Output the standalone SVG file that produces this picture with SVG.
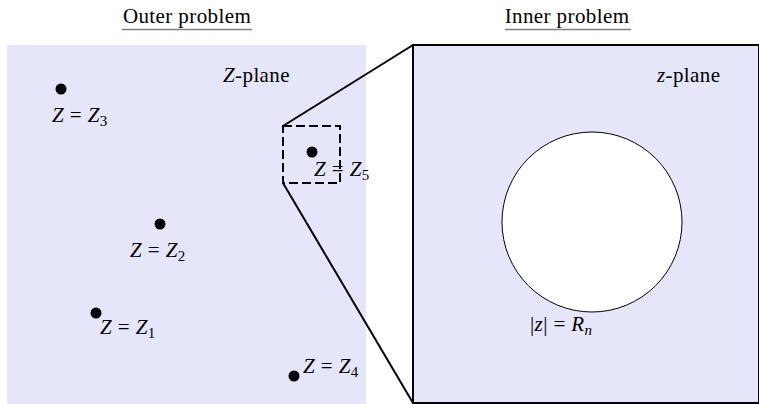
<svg xmlns="http://www.w3.org/2000/svg" width="759" height="404" viewBox="0 0 759 404">
<style>
text{font-family:"Liberation Serif","DejaVu Serif",serif;font-size:21px;fill:#000;letter-spacing:0.4px}
.m{font-style:italic}
.sub{font-size:15px}
.dot{fill:#000}
.ul{stroke:#808080;stroke-width:1.6}
</style>
<rect width="759" height="404" fill="#fff"/>
<g id="titles">
<text x="187" y="23" text-anchor="middle">Outer problem</text>
<line class="ul" x1="122" y1="29.5" x2="252" y2="29.5"/>
<text x="567" y="23" text-anchor="middle">Inner problem</text>
<line class="ul" x1="505" y1="29.5" x2="631" y2="29.5"/>
</g>
<g id="outer">
<rect x="7" y="45" width="359" height="359" fill="#e6e6fa"/>
<text x="223" y="82"><tspan class="m">Z</tspan>-plane</text>
</g>
<g id="inner">
<rect x="413" y="45" width="346" height="358" fill="#e6e6fa" stroke="#000" stroke-width="2"/>
<circle cx="592" cy="222" r="90" fill="#fff" stroke="#000" stroke-width="1"/>
<text x="657" y="82"><tspan class="m">z</tspan>-plane</text>
<text x="530" y="331">|<tspan class="m">z</tspan>| = <tspan class="m">R</tspan><tspan class="m sub" dy="4">n</tspan></text>
</g>
<g id="connectors">
<rect x="283" y="126" width="57" height="57" fill="none" stroke="#000" stroke-width="2" stroke-dasharray="9,4"/>
<line x1="283" y1="126" x2="413" y2="45" stroke="#000" stroke-width="2"/>
<line x1="283" y1="183" x2="413" y2="403" stroke="#000" stroke-width="2"/>
</g>
<g id="Z3"><circle class="dot" cx="61" cy="89" r="5.5"/><text x="52" y="122"><tspan class="m">Z</tspan> = <tspan class="m">Z</tspan><tspan class="sub" dy="4">3</tspan></text></g>
<g id="Z2"><circle class="dot" cx="160" cy="224" r="5.5"/><text x="130" y="257"><tspan class="m">Z</tspan> = <tspan class="m">Z</tspan><tspan class="sub" dy="4">2</tspan></text></g>
<g id="Z1"><circle class="dot" cx="96" cy="313" r="5.5"/><text x="100" y="334"><tspan class="m">Z</tspan> = <tspan class="m">Z</tspan><tspan class="sub" dy="4">1</tspan></text></g>
<g id="Z4"><circle class="dot" cx="294" cy="376" r="5.5"/><text x="303" y="373"><tspan class="m">Z</tspan> = <tspan class="m">Z</tspan><tspan class="sub" dy="4">4</tspan></text></g>
<g id="Z5"><circle class="dot" cx="312" cy="152" r="5.5"/><text x="314" y="176"><tspan class="m">Z</tspan> = <tspan class="m">Z</tspan><tspan class="sub" dy="4">5</tspan></text></g>
</svg>
